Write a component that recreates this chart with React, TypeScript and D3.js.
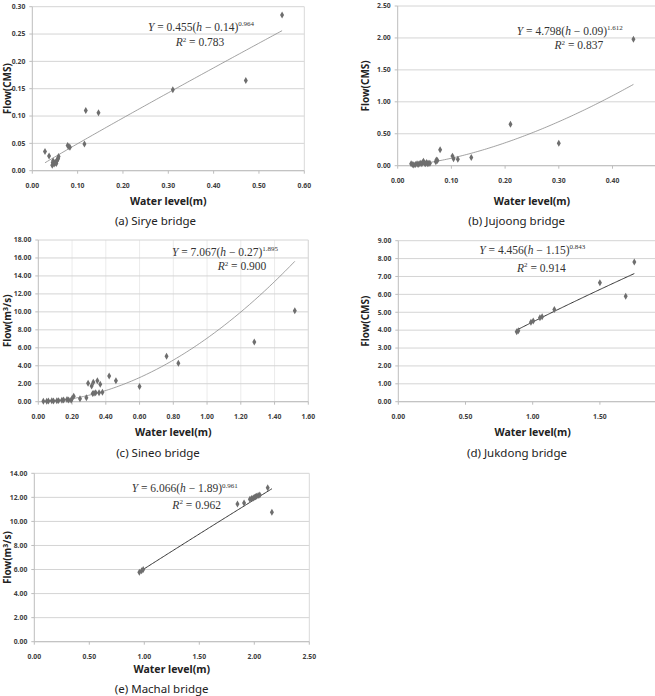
import React from 'react';
import * as d3 from 'd3';

// (a) Sirye bridge
const siryeLevel = [0.028, 0.037, 0.044, 0.045, 0.046, 0.048, 0.050, 0.052, 0.053, 0.055, 0.056, 0.057, 0.058, 0.078, 0.081, 0.083, 0.115, 0.118, 0.146, 0.310, 0.471, 0.551];
const siryeFlow = [0.035, 0.027, 0.010, 0.015, 0.018, 0.012, 0.014, 0.016, 0.013, 0.019, 0.021, 0.023, 0.026, 0.046, 0.044, 0.043, 0.049, 0.110, 0.106, 0.148, 0.165, 0.285];
const siryeXTicks = [0, 0.1, 0.2, 0.3, 0.4, 0.5, 0.6];
const siryeYTicks = [0, 0.05, 0.1, 0.15, 0.2, 0.25, 0.3];

// (b) Jujoong bridge
const jujoongLevel = [0.025, 0.028, 0.030, 0.033, 0.036, 0.038, 0.040, 0.043, 0.045, 0.047, 0.048, 0.050, 0.052, 0.054, 0.056, 0.058, 0.060, 0.071, 0.072, 0.074, 0.079, 0.102, 0.104, 0.112, 0.137, 0.210, 0.300, 0.439];
const jujoongFlow = [0.03, 0.02, 0.01, 0.02, 0.03, 0.02, 0.03, 0.04, 0.03, 0.05, 0.07, 0.04, 0.03, 0.05, 0.03, 0.04, 0.04, 0.06, 0.09, 0.08, 0.25, 0.15, 0.11, 0.10, 0.13, 0.65, 0.35, 1.98];
const jujoongXTicks = [0, 0.1, 0.2, 0.3, 0.4];
const jujoongYTicks = [0, 0.5, 1.0, 1.5, 2.0, 2.5];

// (c) Sineo bridge
const sineoLevel = [0.03, 0.05, 0.06, 0.08, 0.09, 0.11, 0.12, 0.14, 0.15, 0.17, 0.18, 0.195, 0.20, 0.21, 0.247, 0.285, 0.295, 0.316, 0.322, 0.326, 0.33, 0.34, 0.35, 0.36, 0.367, 0.38, 0.42, 0.46, 0.60, 0.76, 0.83, 1.28, 1.52];
const sineoFlow = [0.05, 0.06, 0.08, 0.1, 0.07, 0.1, 0.12, 0.15, 0.2, 0.25, 0.2, 0.15, 0.35, 0.6, 0.33, 0.45, 2.05, 1.75, 0.9, 2.16, 0.95, 1.0, 2.34, 1.0, 1.94, 1.05, 2.86, 2.34, 1.7, 5.05, 4.27, 6.65, 10.13];
const sineoXTicks = [0, 0.2, 0.4, 0.6, 0.8, 1.0, 1.2, 1.4, 1.6];
const sineoYTicks = [0, 2, 4, 6, 8, 10, 12, 14, 16, 18];

// (d) Jukdong bridge
const jukdongLevel = [0.881, 0.893, 0.987, 1.004, 1.054, 1.070, 1.161, 1.500, 1.692, 1.756];
const jukdongFlow = [3.91, 3.97, 4.44, 4.51, 4.69, 4.75, 5.16, 6.65, 5.90, 7.81];
const jukdongXTicks = [0, 0.5, 1.0, 1.5];
const jukdongYTicks = [0, 1, 2, 3, 4, 5, 6, 7, 8, 9];

// (e) Machal bridge
const machalLevel = [0.955, 0.976, 0.99, 1.847, 1.907, 1.96, 1.975, 1.99, 2.0, 2.01, 2.02, 2.035, 2.05, 2.122, 2.160];
const machalFlow = [5.77, 5.9, 6.0, 11.45, 11.53, 11.85, 11.9, 11.95, 12.0, 12.05, 12.1, 12.15, 12.2, 12.8, 10.76];
const machalXTicks = [0, 0.5, 1.0, 1.5, 2.0, 2.5];
const machalYTicks = [0, 2, 4, 6, 8, 10, 12, 14];

// Trendline parameters Y = a * h^b (as drawn), and the printed equation labels
const trendCoef = [0.455, 4.798, 7.067, 4.456, 6.066];
const trendExp = [0.964, 1.612, 1.895, 0.843, 0.961];
const eqOffsets = ['0.14', '0.09', '0.27', '1.15', '1.89'];
const r2Values = ['0.783', '0.837', '0.900', '0.914', '0.962'];
const captions = ['(a) Sirye bridge', '(b) Jujoong bridge', '(c) Sineo bridge', '(d) Jukdong bridge', '(e) Machal bridge'];

type Panel = {
  level: number[]; flow: number[]; xTicks: number[]; yTicks: number[];
  xMax: number; yMax: number;
  left: number; right: number; top: number; bottom: number;
  yTitle: 'cms' | 'm3s'; yTitleX: number;
  eqX: number; eqY: number; r2X: number; r2Y: number;
  xTitleY: number; capX: number; capY: number;
  vGrid: boolean; trendColor: string; trendWidth: number;
};

const panels: Panel[] = [
  { level: siryeLevel, flow: siryeFlow, xTicks: siryeXTicks, yTicks: siryeYTicks, xMax: 0.6, yMax: 0.3,
    left: 32.3, right: 304.3, top: 6.7, bottom: 170.7, yTitle: 'cms', yTitleX: 11,
    eqX: 201, eqY: 30.5, r2X: 200, r2Y: 46, xTitleY: 205, capX: 155.5, capY: 225, vGrid: false, trendColor: '#8a8a8a', trendWidth: 0.8 },
  { level: jujoongLevel, flow: jujoongFlow, xTicks: jujoongXTicks, yTicks: jujoongYTicks, xMax: 0.5, yMax: 2.5,
    left: 397.7, right: 666.2, top: 6, bottom: 165.7, yTitle: 'cms', yTitleX: 368.5,
    eqX: 569.8, eqY: 34.5, r2X: 578.8, r2Y: 49, xTitleY: 205, capX: 516.7, capY: 225, vGrid: false, trendColor: '#8a8a8a', trendWidth: 0.8 },
  { level: sineoLevel, flow: sineoFlow, xTicks: sineoXTicks, yTicks: sineoYTicks, xMax: 1.6, yMax: 18,
    left: 38.3, right: 308.3, top: 240, bottom: 401.7, yTitle: 'm3s', yTitleX: 11,
    eqX: 225, eqY: 255.5, r2X: 242, r2Y: 270, xTitleY: 436, capX: 158, capY: 457, vGrid: true, trendColor: '#8a8a8a', trendWidth: 0.8 },
  { level: jukdongLevel, flow: jukdongFlow, xTicks: jukdongXTicks, yTicks: jukdongYTicks, xMax: 2.0, yMax: 9,
    left: 398.3, right: 667.1, top: 240.7, bottom: 401.7, yTitle: 'cms', yTitleX: 369,
    eqX: 532.3, eqY: 253.5, r2X: 541.3, r2Y: 271.5, xTitleY: 436, capX: 517, capY: 457, vGrid: false, trendColor: '#333', trendWidth: 1 },
  { level: machalLevel, flow: machalFlow, xTicks: machalXTicks, yTicks: machalYTicks, xMax: 2.5, yMax: 14,
    left: 34.3, right: 309.3, top: 473.3, bottom: 641.7, yTitle: 'm3s', yTitleX: 11,
    eqX: 184.7, eqY: 492, r2X: 196.7, r2Y: 508.5, xTitleY: 673, capX: 161.7, capY: 693, vGrid: false, trendColor: '#333', trendWidth: 1 },
];

const tickFont = '"Noto Sans", "DejaVu Sans", sans-serif';
const mathFont = '"Liberation Serif", "DejaVu Serif", serif';

function PanelChart({ p, i }: { p: Panel; i: number }) {
  const x = d3.scaleLinear().domain([0, p.xMax]).range([p.left, p.right]);
  const y = d3.scaleLinear().domain([0, p.yMax]).range([p.bottom, p.top]);
  const xFmt = d3.format('.2f');
  const hMin = d3.min(p.level) as number;
  const hMax = d3.max(p.level) as number;
  const a = trendCoef[i], b = trendExp[i];
  const hs = d3.range(0, 101).map(k => hMin + (hMax - hMin) * k / 100);
  const line = d3.line<number>().x(h => x(h)).y(h => y(a * Math.pow(h, b)));
  const diamond = d3.symbol().type(d3.symbolDiamond).size(14)();
  const midX = (p.left + p.right) / 2;
  const midY = (p.top + p.bottom) / 2;
  return (
    <g>
      {p.vGrid && p.xTicks.slice(1).map(t => (
        <line key={'v' + t} x1={x(t)} x2={x(t)} y1={p.top} y2={p.bottom} stroke="#e6e6e6" strokeWidth={0.8} />
      ))}
      {p.yTicks.map(t => (
        <line key={'h' + t} x1={p.left} x2={p.right} y1={y(t)} y2={y(t)} stroke="#d4d4d4" strokeWidth={1} />
      ))}
      <line x1={p.right} x2={p.right} y1={p.top} y2={p.bottom} stroke="#d9d9d9" strokeWidth={1} />
      <line x1={p.left} x2={p.left} y1={p.top} y2={p.bottom} stroke="#bdbdbd" strokeWidth={1} />
      <line x1={p.left} x2={p.right} y1={p.bottom} y2={p.bottom} stroke="#bdbdbd" strokeWidth={1} />
      {p.xTicks.map(t => (
        <g key={'xt' + t}>
          <line x1={x(t)} x2={x(t)} y1={p.bottom} y2={p.bottom + 3} stroke="#bdbdbd" />
          <text x={x(t)} y={p.bottom + 17} textAnchor="middle" fontFamily={tickFont} fontWeight="bold" fontSize={6.8} fill="#404040">{xFmt(t)}</text>
        </g>
      ))}
      {p.yTicks.map(t => (
        <g key={'yt' + t}>
          <line x1={p.left - 3} x2={p.left} y1={y(t)} y2={y(t)} stroke="#bdbdbd" />
          <text x={p.left - 7} y={y(t) + 2.3} textAnchor="end" fontFamily={tickFont} fontWeight="bold" fontSize={6.8} fill="#404040">{xFmt(t)}</text>
        </g>
      ))}
      <path d={line(hs) || ''} fill="none" stroke={p.trendColor} strokeWidth={p.trendWidth} />
      {p.level.map((h, k) => (
        <path key={'pt' + k} d={diamond} transform={`translate(${x(h)},${y(p.flow[k])})`} fill="#6e6e6e" />
      ))}
      <text x={p.eqX} y={p.eqY} textAnchor="middle" fontFamily={mathFont} fontSize={11.5} fill="#333">
        <tspan fontStyle="italic">Y</tspan>
        <tspan> = {trendCoef[i].toFixed(3)}(</tspan>
        <tspan fontStyle="italic">h</tspan>
        <tspan> − {eqOffsets[i]})</tspan>
        <tspan dy={-4.5} fontSize={7}>{trendExp[i].toFixed(3)}</tspan>
      </text>
      <text x={p.r2X} y={p.r2Y} textAnchor="middle" fontFamily={mathFont} fontSize={11.5} fill="#333">
        <tspan fontStyle="italic">R</tspan>
        <tspan dy={-4.5} fontSize={7}>2</tspan>
        <tspan dy={4.5}> = {r2Values[i]}</tspan>
      </text>
      <text transform={`translate(${p.yTitleX},${midY}) rotate(-90)`} textAnchor="middle" fontFamily={tickFont} fontWeight="bold" fontSize={10} fill="#222">
        {p.yTitle === 'cms' ? 'Flow(CMS)' : (<><tspan>Flow(m</tspan><tspan dy={-3.5} fontSize={7}>3</tspan><tspan dy={3.5}>/s)</tspan></>)}
      </text>
      <text x={midX} y={p.xTitleY} textAnchor="middle" fontFamily={tickFont} fontWeight="bold" fontSize={10.5} fill="#222">Water level(m)</text>
      <text x={p.capX} y={p.capY} textAnchor="middle" fontFamily={tickFont} fontSize={11.5} fill="#222">{captions[i]}</text>
    </g>
  );
}

export default function App() {
  return (
    <svg width={655} height={696} style={{ position: 'absolute', left: 0, top: 0, background: '#fff' }}>
      <rect x={0} y={0} width={655} height={696} fill="#fff" />
      {panels.map((p, i) => <PanelChart key={i} p={p} i={i} />)}
    </svg>
  );
}
